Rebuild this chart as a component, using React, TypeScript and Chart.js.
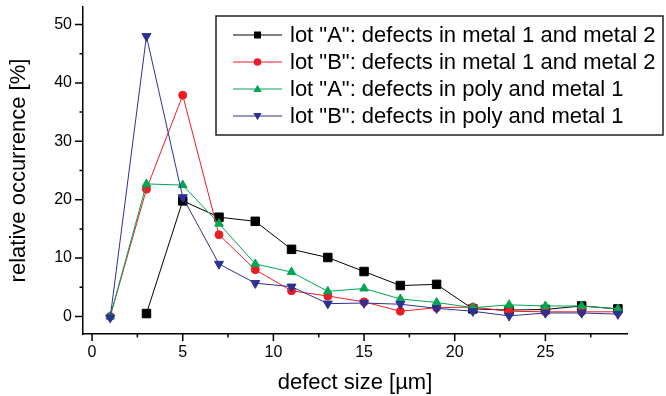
import React, { useEffect, useRef } from "react";
import { Chart, registerables } from "chart.js";

Chart.register(...registerables);

const sizes = [1, 3, 5, 7, 9, 11, 13, 15, 17, 19, 21, 23, 25, 27, 29];
const lotAMetal = [null, 0.5, 19.8, 17.0, 16.3, 11.5, 10.1, 7.7, 5.3, 5.5, 1.3, 1.1, 1.2, 1.8, 1.3];
const lotBMetal = [0, 21.8, 37.9, 14.0, 8.0, 4.4, 3.5, 2.5, 0.9, 1.5, 1.6, 0.9, 0.8, 0.8, 0.8];
const lotAPoly = [0, 22.7, 22.5, 15.9, 9.0, 7.6, 4.3, 4.8, 3.0, 2.4, 1.5, 2.0, 1.8, 1.8, 1.3];
const lotBPoly = [-0.2, 48.0, 20.4, 9.0, 5.7, 5.1, 2.2, 2.3, 2.1, 1.4, 0.9, 0.1, 0.6, 0.6, 0.4];

const seriesLabels = [
  'lot "A": defects in metal 1 and metal 2',
  'lot "B": defects in metal 1 and metal 2',
  'lot "A": defects in poly and metal 1',
  'lot "B": defects in poly and metal 1',
];
const seriesValues = [lotAMetal, lotBMetal, lotAPoly, lotBPoly];
const seriesColors = ["#000000", "#ED1C24", "#00A651", "#2E3192"];
const seriesShapes = ["rect", "circle", "triangle", "triangle"];
const seriesRotation = [0, 0, 0, 180];
const seriesRadius = [6, 4, 5, 5.2];

const xMajorTicks = [0, 5, 10, 15, 20, 25];
const xMinorTicks = [2.5, 7.5, 12.5, 17.5, 22.5, 27.5];
const yMajorTicks = [0, 10, 20, 30, 40, 50];
const yMinorTicks = [5, 15, 25, 35, 45];

const FONT = "'Liberation Sans', Arial, sans-serif";

function drawMarker(ctx: CanvasRenderingContext2D, shape: string, rot: number, x: number, y: number, s: number, color: string) {
  ctx.save();
  ctx.fillStyle = color;
  ctx.beginPath();
  if (shape === "rect") {
    ctx.rect(x - s, y - s, 2 * s, 2 * s);
  } else if (shape === "circle") {
    ctx.arc(x, y, s, 0, Math.PI * 2);
  } else {
    const d = rot === 180 ? -1 : 1;
    ctx.moveTo(x, y - d * s * 1.1);
    ctx.lineTo(x + s * 1.1, y + d * s * 0.8);
    ctx.lineTo(x - s * 1.1, y + d * s * 0.8);
    ctx.closePath();
  }
  ctx.fill();
  ctx.restore();
}

const tickPlugin = {
  id: "customTicks",
  afterDraw(chart: any) {
    const ctx = chart.ctx as CanvasRenderingContext2D;
    const xs = chart.scales.x;
    const ys = chart.scales.y;
    const area = chart.chartArea;
    ctx.save();
    ctx.strokeStyle = "#000";
    ctx.lineWidth = 1.5;
    ctx.beginPath();
    xMajorTicks.forEach((v) => {
      const px = xs.getPixelForValue(v);
      ctx.moveTo(px, area.bottom);
      ctx.lineTo(px, area.bottom + 7);
    });
    xMinorTicks.forEach((v) => {
      const px = xs.getPixelForValue(v);
      ctx.moveTo(px, area.bottom);
      ctx.lineTo(px, area.bottom + 3.5);
    });
    yMajorTicks.forEach((v) => {
      const py = ys.getPixelForValue(v);
      ctx.moveTo(area.left, py);
      ctx.lineTo(area.left - 8, py);
    });
    yMinorTicks.forEach((v) => {
      const py = ys.getPixelForValue(v);
      ctx.moveTo(area.left, py);
      ctx.lineTo(area.left - 3.5, py);
    });
    ctx.stroke();
    ctx.restore();
  },
};

const legendPlugin = {
  id: "boxLegend",
  afterDraw(chart: any) {
    const ctx = chart.ctx as CanvasRenderingContext2D;
    const bx = 216, by = 16, bw = 447, bh = 119;
    ctx.save();
    ctx.fillStyle = "#fff";
    ctx.fillRect(bx, by, bw, bh);
    ctx.strokeStyle = "#222";
    ctx.lineWidth = 1.5;
    ctx.strokeRect(bx, by, bw, bh);
    ctx.font = `22px ${FONT}`;
    ctx.textBaseline = "middle";
    ctx.textAlign = "left";
    seriesLabels.forEach((label, i) => {
      const cy = by + 19 + i * 27;
      ctx.strokeStyle = seriesColors[i];
      ctx.lineWidth = 1;
      ctx.beginPath();
      ctx.moveTo(233, cy);
      ctx.lineTo(282, cy);
      ctx.stroke();
      drawMarker(ctx, seriesShapes[i], seriesRotation[i], 257.5, cy, seriesShapes[i] === "rect" ? 3.5 : 3.8, seriesColors[i]);
      ctx.fillStyle = "#000";
      ctx.fillText(label, 290, cy + 1);
    });
    ctx.restore();
  },
};

export default function App() {
  const ref = useRef<HTMLCanvasElement | null>(null);
  useEffect(() => {
    if (!ref.current) return;
    const datasets = seriesValues.map((vals, i) => ({
      label: seriesLabels[i],
      data: sizes.map((s, j) => ({ x: s, y: vals[j] })),
      borderColor: seriesColors[i],
      backgroundColor: seriesColors[i],
      borderWidth: 1,
      pointStyle: seriesShapes[i],
      rotation: seriesRotation[i],
      pointRadius: seriesRadius[i],
      pointBackgroundColor: seriesColors[i],
      pointBorderColor: seriesColors[i],
      pointBorderWidth: 1,
      tension: 0,
      order: 3 - i,
      spanGaps: false,
    }));
    const chart = new Chart(ref.current, {
      type: "line",
      data: { datasets: datasets as any },
      options: {
        animation: false,
        responsive: false,
        layout: { padding: { top: 5, right: 39, left: 0, bottom: 0 } },
        plugins: { legend: { display: false }, tooltip: { enabled: false } },
        scales: {
          x: {
            type: "linear",
            min: -0.5,
            max: 29.5,
            afterFit: (s: any) => { s.height = 62; s.paddingLeft = 0; s.paddingRight = 0; },
            afterBuildTicks: (s: any) => { s.ticks = xMajorTicks.map((v) => ({ value: v })); },
            grid: { display: false, drawTicks: false },
            border: { display: true, color: "#000", width: 1.5 },
            ticks: { color: "#000", font: { family: FONT, size: 16 }, padding: 9, maxRotation: 0, autoSkip: false },
            title: { display: true, text: "defect size [µm]", color: "#000", font: { family: FONT, size: 22 }, padding: { top: 0, bottom: 0 } },
          },
          y: {
            type: "linear",
            min: -3,
            max: 53,
            afterFit: (s: any) => { s.width = 83; s.paddingTop = 0; s.paddingBottom = 0; },
            afterBuildTicks: (s: any) => { s.ticks = yMajorTicks.map((v) => ({ value: v })); },
            grid: { display: false, drawTicks: false },
            border: { display: true, color: "#000", width: 1.5 },
            ticks: { color: "#000", font: { family: FONT, size: 16 }, padding: 11, autoSkip: false },
            title: { display: true, text: "relative occurrence [%]", color: "#000", font: { family: FONT, size: 22 }, padding: { top: 6, bottom: 0 } },
          },
        },
      },
      plugins: [tickPlugin, legendPlugin],
    });
    return () => chart.destroy();
  }, []);
  return (
    <div style={{ position: "fixed", left: 0, top: 0, width: 666, height: 396, background: "#fff" }}>
      <canvas ref={ref} width={666} height={396} style={{ display: "block" }} />
    </div>
  );
}
